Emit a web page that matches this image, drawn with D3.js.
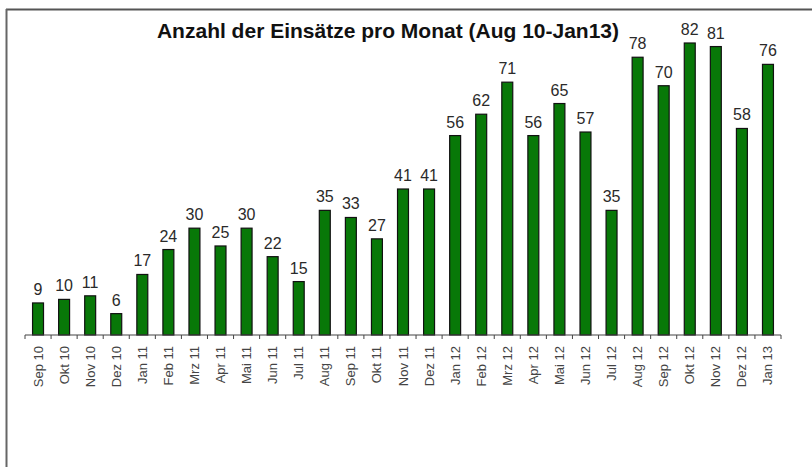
<!DOCTYPE html>
<html>
<head>
<meta charset="utf-8">
<script src="https://cdn.jsdelivr.net/npm/d3@7/dist/d3.min.js"></script>
<style>
  body { margin: 0; background: #fff; }
  svg { display: block; font-family: "Liberation Sans", Arial, sans-serif; }
</style>
</head>
<body>
<svg width="812" height="467"></svg>
<script>
  // Monats-Kategorien und Einsätze
  var months = ["Sep 10", "Okt 10", "Nov 10", "Dez 10",
    "Jan 11", "Feb 11", "Mrz 11", "Apr 11", "Mai 11", "Jun 11", "Jul 11", "Aug 11", "Sep 11", "Okt 11", "Nov 11", "Dez 11",
    "Jan 12", "Feb 12", "Mrz 12", "Apr 12", "Mai 12", "Jun 12", "Jul 12", "Aug 12", "Sep 12", "Okt 12", "Nov 12", "Dez 12",
    "Jan 13"];
  var counts = [9, 10, 11, 6, 17, 24, 30, 25, 30, 22, 15, 35, 33, 27, 41, 41,
    56, 62, 71, 56, 65, 57, 35, 78, 70, 82, 81, 58, 76];
  var title = "Anzahl der Einsätze pro Monat (Aug 10-Jan13)";

  var svg = d3.select("svg"),
    width = +svg.attr("width"),
    height = +svg.attr("height");

  // frame lines (top + left)
  svg.append("line")
      .attr("x1", 6).attr("x2", width).attr("y1", 9.5).attr("y2", 9.5)
      .attr("stroke", "#555").attr("stroke-width", 2);
  svg.append("line")
      .attr("x1", 6.5).attr("x2", 6.5).attr("y1", 9).attr("y2", height)
      .attr("stroke", "#666").attr("stroke-width", 2);

  var x = d3.scaleBand()
      .domain(months)
      .range([25, 781])
      .paddingInner(0.58)
      .paddingOuter(0.29);

  var y = d3.scaleLinear()
      .domain([0, 82])
      .range([335, 43]);

  svg.append("text")
      .attr("x", 388)
      .attr("y", 38)
      .attr("text-anchor", "middle")
      .attr("font-size", 21)
      .attr("font-weight", "bold")
      .attr("fill", "#111")
      .text(title);

  var data = months.map(function(m, i) { return { month: m, count: counts[i] }; });

  svg.append("g")
    .selectAll("rect")
    .data(data)
    .enter().append("rect")
      .attr("x", function(d) { return x(d.month); })
      .attr("y", function(d) { return y(d.count); })
      .attr("width", x.bandwidth())
      .attr("height", function(d) { return y(0) - y(d.count); })
      .attr("fill", "#087808")
      .attr("stroke", "#111")
      .attr("stroke-width", 1.2);

  svg.append("g")
    .selectAll("text")
    .data(data)
    .enter().append("text")
      .attr("x", function(d) { return x(d.month) + x.bandwidth() / 2; })
      .attr("y", function(d) { return y(d.count) - 8; })
      .attr("text-anchor", "middle")
      .attr("font-size", 16)
      .attr("fill", "#2a2a2a")
      .text(function(d) { return d.count; });

  // axis: line with ticks on category boundaries
  var axis = svg.append("g").attr("transform", "translate(0," + y(0) + ")");
  axis.append("line")
      .attr("x1", x.range()[0]).attr("x2", x.range()[1])
      .attr("stroke", "#444").attr("stroke-width", 1.2);
  var step = x.step();
  axis.selectAll(".tick")
    .data(d3.range(months.length + 1))
    .enter().append("line")
      .attr("class", "tick")
      .attr("x1", function(i) { return x.range()[0] + i * step; })
      .attr("x2", function(i) { return x.range()[0] + i * step; })
      .attr("y1", 0).attr("y2", 4)
      .attr("stroke", "#444");

  axis.selectAll(".lbl")
    .data(months)
    .enter().append("text")
      .attr("class", "lbl")
      .attr("transform", function(d) {
        return "translate(" + (x(d) + x.bandwidth() / 2 + 4.5) + ",11) rotate(-90)";
      })
      .attr("text-anchor", "end")
      .attr("font-size", 13)
      .attr("fill", "#444")
      .text(function(d) { return d; });
</script>
</body>
</html>
